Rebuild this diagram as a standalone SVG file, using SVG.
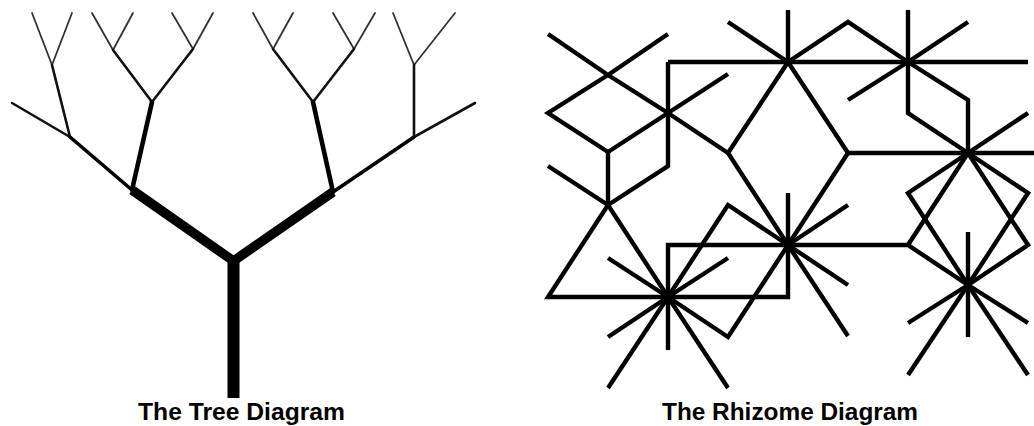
<svg xmlns="http://www.w3.org/2000/svg" width="1034" height="426" viewBox="0 0 1034 426">
<style>
.t{fill:none;stroke:#000;stroke-linecap:round;stroke-linejoin:round}
.l4{stroke-width:1.8;stroke:#333}
.l3{stroke-width:2.6;stroke:#111}
.r{fill:none;stroke:#000;stroke-width:4.4;stroke-linecap:butt;stroke-linejoin:miter}
.lab{font-family:"Liberation Sans",Arial,sans-serif;font-weight:bold;font-size:24px;fill:#000;text-anchor:middle}
</style>
<rect width="1034" height="426" fill="#fff"/>
<g id="tree">
<g class="t l4">
<polyline points="32,13 52,65 72,13"/>
<polyline points="92,13 113,50 133,13"/>
<polyline points="172,13 193,49 213,13"/>
<polyline points="253,13 273,49 293,13"/>
<polyline points="333,13 354,49 375,13"/>
<polyline points="393,13 414,65 455,13"/>
</g>
<g class="t l3">
<line x1="52" y1="65" x2="70" y2="137"/>
<polyline points="113,50 152,102 193,49"/>
<polyline points="273,49 313,102 354,49"/>
<line x1="414" y1="65" x2="414" y2="137"/>
<line x1="12" y1="103" x2="70" y2="137"/>
<line x1="475" y1="103" x2="414" y2="137"/>
</g>
<g class="t">
<line x1="70" y1="137" x2="132" y2="190" stroke-width="3.6"/>
<line x1="152" y1="102" x2="132" y2="190" stroke-width="4.6"/>
<line x1="313" y1="102" x2="333" y2="192" stroke-width="4.6"/>
<line x1="414" y1="137" x2="333" y2="192" stroke-width="3.6"/>
</g>
<polyline points="132,190 233.5,261 333,192" fill="none" stroke="#000" stroke-width="9.5" stroke-linejoin="miter"/>
<line x1="233.5" y1="258" x2="233.5" y2="398" stroke="#000" stroke-width="12"/>
</g>
<g id="rhizome" class="r">
<polyline points="548,34 608,75 668,113 728,153"/>
<polyline points="668,34 608,75 548,113 608,152 668,113 728,74"/>
<line x1="608" y1="152" x2="608" y2="205"/>
<line x1="548" y1="166" x2="608" y2="205"/>
<polyline points="668,62 668,166 608,205"/>
<line x1="668" y1="62" x2="1028" y2="62"/>
<line x1="728" y1="22" x2="788" y2="62"/>
<line x1="788" y1="10" x2="788" y2="62"/>
<polyline points="788,62 728,153 788,245"/>
<polyline points="788,62 848,22 908,62"/>
<polyline points="908,10 908,113 968,153"/>
<line x1="908" y1="62" x2="968" y2="22"/>
<line x1="908" y1="62" x2="848" y2="100"/>
<polyline points="908,62 968,100 968,153"/>
<line x1="968" y1="153" x2="1028" y2="113"/>
<polyline points="788,62 848,153 1034,153"/>
<line x1="848" y1="153" x2="788" y2="245"/>
<polyline points="968,153 908,193 968,285"/>
<polyline points="968,153 1028,193 968,285"/>
<polyline points="968,153 908,245 968,285"/>
<polyline points="968,153 1028,245 968,285"/>
<line x1="968" y1="232" x2="968" y2="337"/>
<line x1="968" y1="285" x2="908" y2="323"/>
<line x1="968" y1="285" x2="1028" y2="323"/>
<line x1="968" y1="285" x2="908" y2="375"/>
<line x1="968" y1="285" x2="1028" y2="375"/>
<line x1="788" y1="245" x2="908" y2="245"/>
<polyline points="668,350 668,245 788,245"/>
<polyline points="788,193 788,297 548,297 608,205 668,297"/>
<polygon points="668,297 728,205 788,245 728,337"/>
<line x1="788" y1="245" x2="848" y2="205"/>
<line x1="788" y1="245" x2="848" y2="285"/>
<line x1="788" y1="245" x2="848" y2="336"/>
<line x1="668" y1="297" x2="608" y2="258"/>
<line x1="668" y1="297" x2="728" y2="258"/>
<line x1="668" y1="297" x2="608" y2="337"/>
<line x1="668" y1="297" x2="608" y2="388"/>
<line x1="668" y1="297" x2="728" y2="388"/>
</g>
<g id="labels">
<text class="lab" x="241.5" y="420" textLength="207" lengthAdjust="spacingAndGlyphs">The Tree Diagram</text>
<text class="lab" x="790" y="420" textLength="256" lengthAdjust="spacingAndGlyphs">The Rhizome Diagram</text>
</g>
</svg>
